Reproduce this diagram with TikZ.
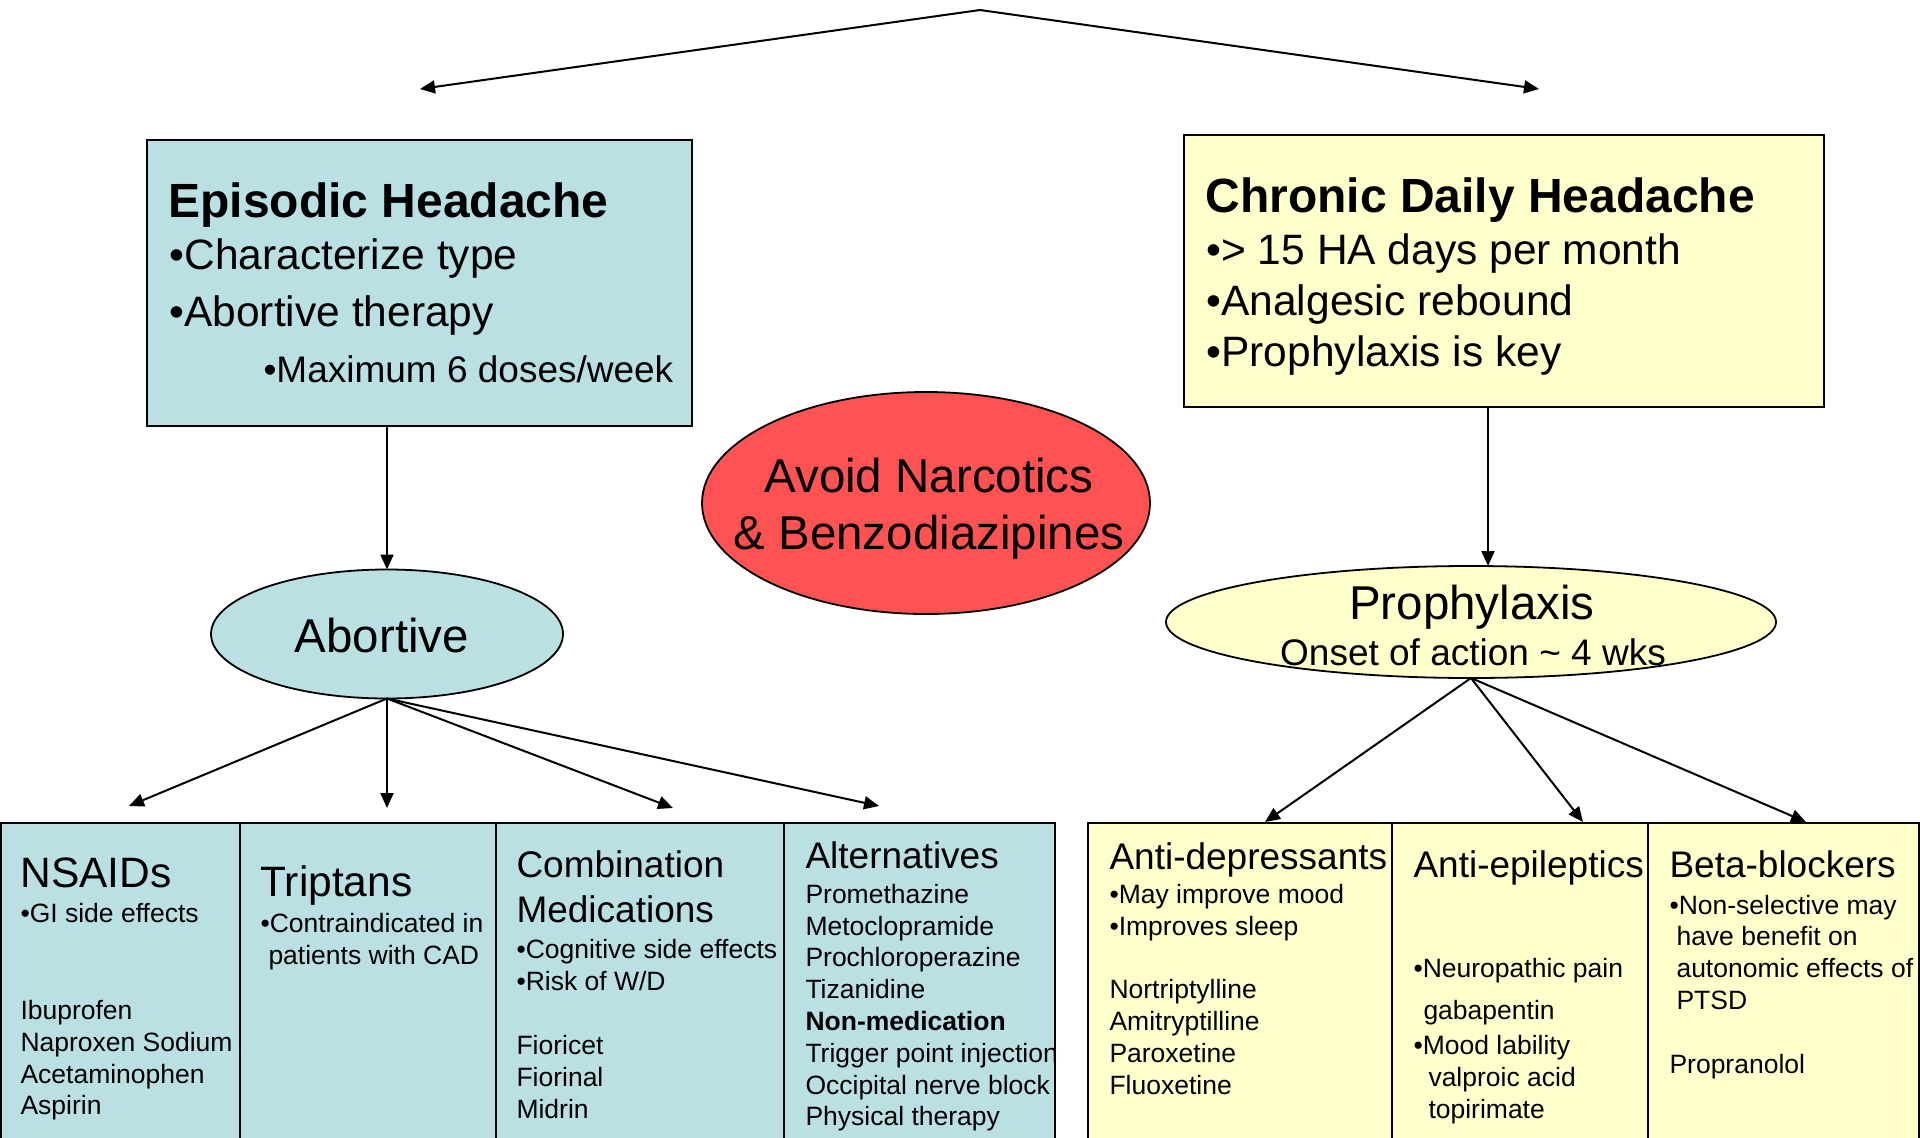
\documentclass[tikz,border=0pt]{standalone}
\usepackage{fontspec}
\setmainfont{Liberation Sans}
\usetikzlibrary{shapes.geometric,arrows.meta}
\definecolor{cblue}{RGB}{187,224,227}
\definecolor{cyel}{RGB}{255,255,204}
\definecolor{cred}{RGB}{255,82,82}
\newcommand\fsTitle{\fontsize{48}{57}\selectfont\bfseries}
\newcommand\fsBody{\fontsize{42.5}{51}\selectfont}
\newcommand\fsMid{\fontsize{37}{44}\selectfont}
\newcommand\fsEll{\fontsize{47.5}{57}\selectfont}
\newcommand\fsSmall{\fontsize{26.5}{32}\selectfont}
\begin{document}
\begin{tikzpicture}[x=1pt,y=-1pt,
  txt/.style={anchor=base west, inner sep=0pt, outer sep=0pt, xshift=2.5pt},
  stxt/.style={txt, font=\fsSmall, yshift=-1pt},
  ctxt/.style={anchor=base, inner sep=0pt, outer sep=0pt},
  arr/.style={line width=2pt, -{Triangle[length=15pt,width=13pt]}},
  darr/.style={line width=2pt, {Triangle[length=15pt,width=13pt]}-{Triangle[length=15pt,width=13pt]}},
  box/.style={draw, line width=2pt, anchor=north west, inner sep=0pt, outer sep=0pt},
  cell/.style={draw, line width=2.5pt, anchor=north west, inner sep=0pt, outer sep=0pt},
  ell/.style={ellipse, draw, line width=1.8pt, inner sep=0pt, outer sep=0pt}]
\useasboundingbox (0,0) rectangle (1920,1138);
\clip (0,0) rectangle (1920,1138);
\fill[white] (0,0) rectangle (1920,1138);

% top split arrow
\coordinate (apex) at (980,10);
\coordinate (tl) at (420,89);
\coordinate (tr) at (1539,89);
\draw[darr] (tl) -- (apex) -- (tr);

% top boxes
\node[box, fill=cblue, minimum width=545pt, minimum height=286pt] (epi) at (147,140) {};
\node[box, fill=cyel, minimum width=640pt, minimum height=272pt] (chr) at (1184,135) {};

\node[txt, font=\fsTitle] (e1) at (166,217) {Episodic Headache};
\node[txt, font=\fsBody] (e2) at (167,269) {•Characterize type};
\node[txt, font=\fsBody] (e3) at (167,326) {•Abortive therapy};
\node[txt, font=\fsMid] (e4) at (261,382) {•Maximum 6 doses/week};

\node[txt, font=\fsTitle] (c1) at (1203,212) {Chronic Daily Headache};
\node[txt, font=\fsBody] (c2) at (1204,264) {•> 15 HA days per month};
\node[txt, font=\fsBody] (c3) at (1204,315) {•Analgesic rebound};
\node[txt, font=\fsBody] (c4) at (1204,366) {•Prophylaxis is key};

% ellipses
\node[ell, fill=cred, minimum width=448pt, minimum height=222pt] (red) at (926,503) {};
\node[ctxt, font=\fsEll] (r1) at (929,492) {Avoid Narcotics};
\node[ctxt, font=\fsEll] (r2) at (929,549) {\& Benzodiazipines};

\node[ell, fill=cblue, minimum width=352pt, minimum height=129pt] (abo) at (387,634) {};
\node[ctxt, font=\fsEll] (a1) at (382,652) {Abortive};

\node[ell, fill=cyel, minimum width=610pt, minimum height=112pt] (pro) at (1471,622) {};
\node[ctxt, font=\fsEll] (p1) at (1472,619) {Prophylaxis};
\node[ctxt, font=\fsMid] (p2) at (1473,665) {Onset of action \textasciitilde{} 4 wks};

% vertical arrows
\coordinate (cx) at (1488,0);
\draw[arr] (abo.north |- epi.south) -- (abo.north);
\draw[arr] (chr.south -| cx) -- (pro.north -| cx);

% bottom tables
\node[cell, fill=cblue, minimum width=239pt, minimum height=340pt] (n1) at (1,823) {};
\node[cell, fill=cblue, minimum width=256pt, minimum height=340pt] (n2) at (240,823) {};
\node[cell, fill=cblue, minimum width=288pt, minimum height=340pt] (n3) at (496,823) {};
\node[cell, fill=cblue, minimum width=271pt, minimum height=340pt] (n4) at (784,823) {};
\node[cell, fill=cyel, minimum width=304pt, minimum height=340pt] (m1) at (1088,823) {};
\node[cell, fill=cyel, minimum width=256pt, minimum height=340pt] (m2) at (1392,823) {};
\node[cell, fill=cyel, minimum width=271pt, minimum height=340pt] (m3) at (1648,823) {};

% arrows to tables
\coordinate (ta1) at (129,806);
\coordinate (ta2) at (387,808);
\coordinate (ta3) at (673,808);
\coordinate (ta4) at (879,806);
\draw[arr] (abo.south) -- (ta1);
\draw[arr] (abo.south) -- (ta2);
\draw[arr] (abo.south) -- (ta3);
\draw[arr] (abo.south) -- (ta4);
\coordinate (tp1) at (1265,822);
\coordinate (tp2) at (1583,822);
\coordinate (tp3) at (1806,822);
\draw[arr] (pro.south) -- (tp1);
\draw[arr] (pro.south) -- (tp2);
\draw[arr] (pro.south) -- (tp3);

% NSAIDs
\node[txt, font=\fsBody] (t11) at (18,887) {NSAIDs};
\node[stxt] (t12) at (18,921) {•GI side effects};
\node[stxt] (t13) at (18,1018) {Ibuprofen};
\node[stxt] (t14) at (18,1050) {Naproxen Sodium};
\node[stxt] (t15) at (18,1082) {Acetaminophen};
\node[stxt] (t16) at (18,1113) {Aspirin};
% Triptans
\node[txt, font=\fsBody] (t21) at (258,896) {Triptans};
\node[stxt] (t22) at (258,931) {•Contraindicated in};
\node[stxt] (t23) at (266,963) {patients with CAD};
% Combination
\node[txt, font=\fsMid] (t31) at (514,877) {Combination};
\node[txt, font=\fsMid] (t32) at (514,922) {Medications};
\node[stxt] (t33) at (514,957) {•Cognitive side effects};
\node[stxt] (t34) at (514,989) {•Risk of W/D};
\node[stxt] (t35) at (514,1053) {Fioricet};
\node[stxt] (t36) at (514,1085) {Fiorinal};
\node[stxt] (t37) at (514,1117) {Midrin};
% Alternatives
\node[txt, font=\fsMid] (t41) at (803,868) {Alternatives};
\node[stxt] (t42) at (803,902) {Promethazine};
\node[stxt] (t43) at (803,934) {Metoclopramide};
\node[stxt] (t44) at (803,965) {Prochloroperazine};
\node[stxt] (t45) at (803,997) {Tizanidine};
\node[stxt] (t46) at (803,1029) {\textbf{Non-medication}};
\node[stxt] (t47) at (803,1061) {Trigger point injection};
\node[stxt] (t48) at (803,1093) {Occipital nerve block};
\node[stxt] (t49) at (803,1124) {Physical therapy};
% Anti-depressants
\node[txt, font=\fsMid] (u11) at (1107,869) {Anti-depressants};
\node[stxt] (u12) at (1107,902) {•May improve mood};
\node[stxt] (u13) at (1107,934) {•Improves sleep};
\node[stxt] (u14) at (1107,997) {Nortriptylline};
\node[stxt] (u15) at (1107,1029) {Amitryptilline};
\node[stxt] (u16) at (1107,1061) {Paroxetine};
\node[stxt] (u17) at (1107,1093) {Fluoxetine};
% Anti-epileptics
\node[txt, font=\fsMid] (u21) at (1411,877) {Anti-epileptics};
\node[stxt] (u22) at (1411,976) {•Neuropathic pain};
\node[stxt] (u23) at (1421,1018) {gabapentin};
\node[stxt] (u24) at (1411,1053) {•Mood lability};
\node[stxt] (u25) at (1426,1085) {valproic acid};
\node[stxt] (u26) at (1426,1117) {topirimate};
% Beta-blockers
\node[txt, font=\fsMid] (u31) at (1667,877) {Beta-blockers};
\node[stxt] (u32) at (1667,913) {•Non-selective may};
\node[stxt] (u33) at (1674,944) {have benefit on};
\node[stxt] (u34) at (1674,976) {autonomic effects of};
\node[stxt] (u35) at (1674,1008) {PTSD};
\node[stxt] (u36) at (1667,1072) {Propranolol};
\end{tikzpicture}
\end{document}
